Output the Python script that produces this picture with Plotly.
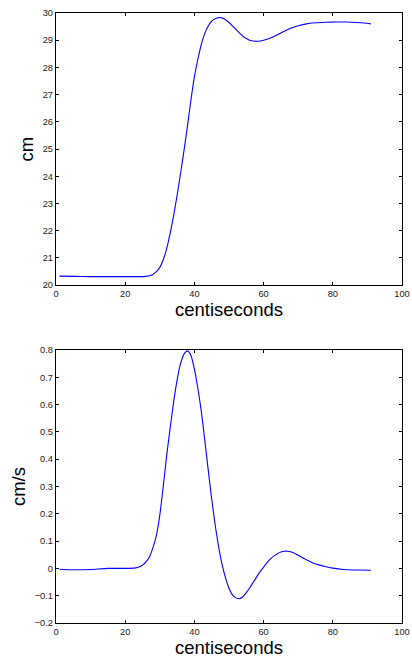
import plotly.graph_objects as go
from plotly.subplots import make_subplots

# Position (cm) vs time (centiseconds)
pos_t = [1, 5, 10, 15, 20, 24, 26, 27, 28, 29, 30, 31, 32, 33, 34, 35, 36, 37, 38, 39,
         40, 41, 42, 43, 44, 45, 46, 47, 48, 49, 50, 51, 52, 53, 54, 55, 56, 57, 58, 59,
         60, 62, 64, 66, 68, 70, 72, 75, 78, 81, 84, 87, 89, 91]
pos_cm = [20.33, 20.32, 20.31, 20.31, 20.31, 20.31, 20.32, 20.34, 20.39, 20.49, 20.65,
          20.93, 21.35, 21.90, 22.55, 23.30, 24.10, 24.95, 25.85, 26.80, 27.65, 28.30,
          28.85, 29.25, 29.52, 29.70, 29.79, 29.83, 29.82, 29.75, 29.65, 29.53, 29.40,
          29.27, 29.15, 29.06, 29.00, 28.97, 28.96, 28.97, 29.00, 29.08, 29.20, 29.33,
          29.45, 29.53, 29.59, 29.64, 29.66, 29.67, 29.67, 29.65, 29.63, 29.60]

# Velocity (cm/s) vs time (centiseconds)
vel_t = [1, 5, 10, 15, 20, 23, 24, 25, 26, 27, 28, 29, 30, 31, 32, 33, 34, 35, 36, 37,
         38, 39, 40, 41, 42, 43, 44, 45, 46, 47, 48, 49, 50, 51, 52, 53, 54, 55, 56, 57,
         58, 59, 60, 61, 62, 63, 64, 65, 66, 67, 68, 69, 70, 72, 74, 76, 78, 80, 83, 87, 91]
vel_cms = [-0.003, -0.005, -0.004, 0.000, 0.000, 0.002, 0.005, 0.012, 0.024, 0.042,
           0.075, 0.120, 0.195, 0.300, 0.415, 0.515, 0.610, 0.690, 0.750, 0.785,
           0.797, 0.780, 0.730, 0.660, 0.575, 0.470, 0.360, 0.255, 0.160, 0.080,
           0.015, -0.035, -0.073, -0.097, -0.108, -0.111, -0.104, -0.089, -0.071, -0.051,
           -0.031, -0.012, 0.005, 0.021, 0.035, 0.046, 0.054, 0.060, 0.063, 0.063,
           0.060, 0.055, 0.048, 0.034, 0.022, 0.013, 0.006, 0.001, -0.004, -0.006, -0.007]

x_ticks = [0, 20, 40, 60, 80, 100]
pos_ticks = [20, 21, 22, 23, 24, 25, 26, 27, 28, 29, 30]
vel_ticks = [-0.2, -0.1, 0, 0.1, 0.2, 0.3, 0.4, 0.5, 0.6, 0.7, 0.8]
vel_tick_text = ["\u22120.2", "\u22120.1", "0", "0.1", "0.2", "0.3", "0.4", "0.5", "0.6", "0.7", "0.8"]

fig = make_subplots(rows=2, cols=1, vertical_spacing=0.1)

fig.add_trace(go.Scatter(x=pos_t, y=pos_cm, mode="lines",
                         line=dict(color="#0000ff", width=1.1, shape="spline", smoothing=0.6),
                         showlegend=False), row=1, col=1)
fig.add_trace(go.Scatter(x=vel_t, y=vel_cms, mode="lines",
                         line=dict(color="#0000ff", width=1.1, shape="spline", smoothing=0.6),
                         showlegend=False), row=2, col=1)

font_family = "Liberation Sans, Arial, Helvetica, sans-serif"
axis_common = dict(showline=True, linecolor="black", linewidth=1.2, mirror="ticks",
                   ticks="inside", ticklen=3, tickwidth=1, tickcolor="black",
                   showgrid=False, zeroline=False, automargin=False,
                   tickfont=dict(family=font_family, size=9.3, color="#222"))

fig.update_xaxes(**axis_common, range=[0, 100], tickvals=x_ticks,
                 title=dict(text="centiseconds", font=dict(family=font_family, size=18.5, color="black"),
                            standoff=2))
fig.update_yaxes(**axis_common)
fig.update_yaxes(range=[20, 30], tickvals=pos_ticks,
                 title=dict(text="cm", font=dict(family=font_family, size=18.5, color="black"),
                            standoff=4), row=1, col=1)
fig.update_yaxes(range=[-0.2, 0.8], tickvals=vel_ticks, ticktext=vel_tick_text,
                 title=dict(text="cm/s", font=dict(family=font_family, size=18.5, color="black"),
                            standoff=4), row=2, col=1)

fig.update_layout(
    width=412, height=662,
    margin=dict(l=56, r=10, t=13, b=39),
    paper_bgcolor="white", plot_bgcolor="white",
    yaxis=dict(domain=[0.554, 1.0]),
    yaxis2=dict(domain=[0.0, 0.4475]),
)

fig.write_html("out.html")
